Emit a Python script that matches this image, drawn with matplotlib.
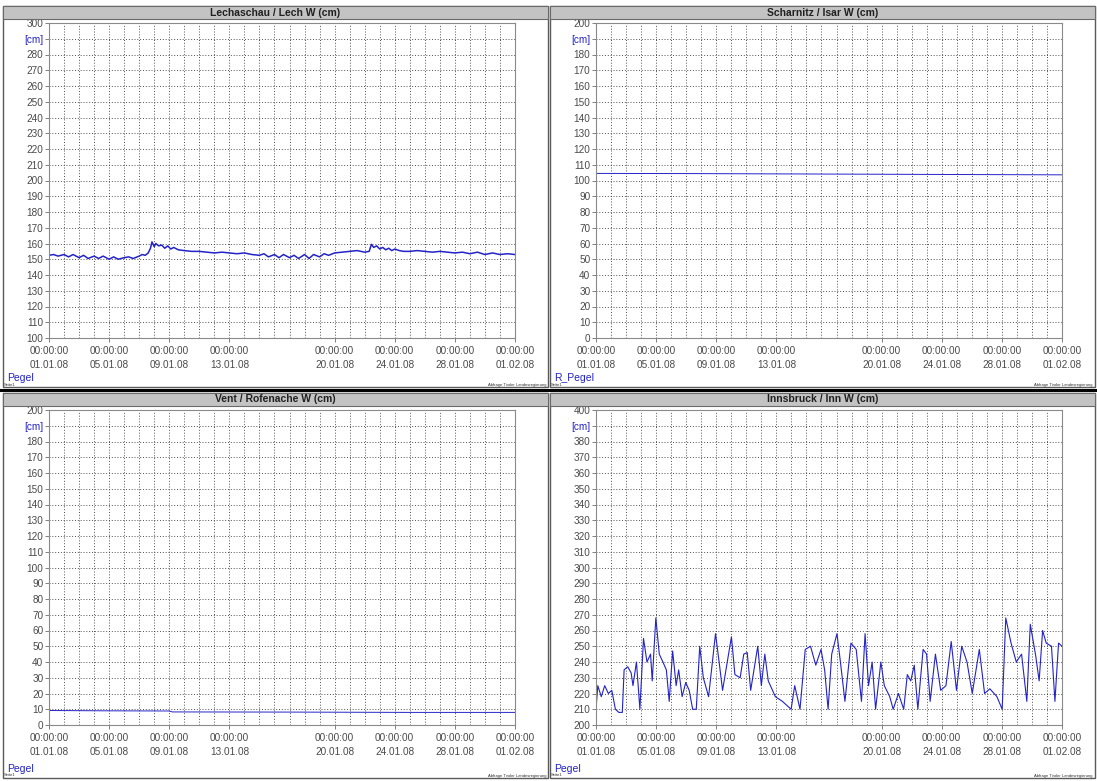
import numpy as np
import matplotlib
matplotlib.use("Agg")
import matplotlib.pyplot as plt
from matplotlib.patches import Rectangle

plt.rcParams["font.family"] = ["Liberation Sans", "DejaVu Sans"]

# ---- data (x in days since 01.01.08 00:00) ----
tick_days = [0, 4, 8, 12, 19, 23, 27, 31]
tick_dates = ["01.01.08", "05.01.08", "09.01.08", "13.01.08",
              "20.01.08", "24.01.08", "28.01.08", "01.02.08"]

lech_days = [0, 0.3, 0.6, 1.0, 1.3, 1.6, 2.0, 2.3, 2.6, 3.0, 3.3, 3.6, 4.0, 4.3,
             4.6, 5.0, 5.3, 5.6, 6.0, 6.2, 6.4, 6.6, 6.75, 6.85, 7.0, 7.1, 7.3,
             7.5, 7.7, 7.9, 8.1, 8.3, 8.6, 9.0, 9.5, 10.0, 10.5, 11.0, 11.5,
             12.0, 12.5, 13.0, 13.5, 14.0, 14.3, 14.6, 15.0, 15.3, 15.6, 16.0,
             16.3, 16.6, 17.0, 17.3, 17.6, 18.0, 18.3, 18.6, 19.0, 19.5, 20.0,
             20.5, 21.0, 21.3, 21.45, 21.6, 21.8, 22.0, 22.2, 22.4, 22.6, 22.8,
             23.0, 23.3, 23.6, 24.0, 24.5, 25.0, 25.5, 26.0, 26.5, 27.0, 27.5,
             28.0, 28.5, 29.0, 29.5, 30.0, 30.5, 31.0]
lech_cm = [152.5, 153, 152, 153, 151.5, 153, 151, 152.5, 150.5, 152, 150.5, 152,
           150, 151.5, 150, 151, 151.5, 150.5, 152, 153, 152.5, 154, 157, 161,
           158, 160, 158.5, 159, 157, 158.5, 156.5, 157.5, 156, 155.5, 155, 155,
           154.5, 154, 154.5, 154, 153.5, 154, 153, 152.5, 153.5, 151.5, 153,
           151, 153, 151, 152.5, 150.5, 153, 150.5, 153, 151.5, 153.5, 152.5,
           154, 154.5, 155, 155.5, 154.5, 155, 159.5, 157.5, 158.5, 156.5,
           157.5, 156, 157, 155.5, 156.5, 155.5, 155, 155, 155.5, 155, 154.5,
           155, 154.5, 154, 154.5, 153.5, 154.5, 153, 154, 153, 153.5, 153]

isar_days = [0, 6, 12, 18, 24, 31]
isar_cm = [104.5, 104.4, 104.2, 104.0, 103.8, 103.6]

vent_days = [0, 4, 8, 8.2, 16, 24, 31]
vent_cm = [9.2, 9.0, 8.9, 8.3, 8.2, 8.0, 8.0]

inn_days = [0.0, 0.12, 0.35, 0.58, 0.82, 1.05, 1.29, 1.52, 1.75, 1.87, 2.11, 2.34,
            2.46, 2.69, 2.92, 3.16, 3.39, 3.63, 3.74, 3.98, 4.21, 4.45, 4.68,
            4.87, 5.10, 5.33, 5.50, 5.73, 5.97, 6.20, 6.43, 6.67, 6.90, 7.14,
            7.49, 7.95, 8.19, 8.42, 9.01, 9.24, 9.59, 9.83, 10.06, 10.29, 10.76,
            11.00, 11.23, 11.46, 11.93, 12.40, 12.98, 13.22, 13.57, 13.92, 14.27,
            14.62, 14.97, 15.21, 15.44, 15.68, 16.03, 16.26, 16.56, 16.96, 17.31,
            17.66, 17.90, 18.13, 18.37, 18.60, 18.95, 19.18, 19.54, 19.77, 20.12,
            20.47, 20.71, 20.94, 21.17, 21.41, 21.76, 21.99, 22.23, 22.58, 22.93,
            23.28, 23.63, 23.98, 24.33, 24.68, 25.03, 25.50, 25.85, 26.20, 26.67,
            27.02, 27.26, 27.61, 27.96, 28.31, 28.66, 28.89, 29.25, 29.48, 29.71,
            29.95, 30.30, 30.53, 30.77, 31.0]
inn_cm = [210, 225, 218, 225, 220, 222, 210, 208, 208, 235, 237, 233, 225, 240,
          210, 255, 240, 245, 228, 268, 245, 240, 235, 215, 247, 225, 235, 218,
          227, 222, 210, 210, 250, 230, 218, 258, 240, 222, 256, 232, 230, 245,
          246, 222, 250, 225, 245, 228, 218, 215, 210, 225, 210, 248, 250, 238,
          248, 235, 210, 245, 258, 240, 215, 252, 248, 215, 258, 225, 240, 210,
          240, 225, 218, 210, 220, 210, 232, 228, 238, 210, 248, 245, 215, 245,
          222, 225, 253, 222, 250, 240, 220, 248, 220, 223, 218, 210, 268, 252,
          240, 245, 215, 264, 244, 228, 260, 252, 250, 215, 252, 250]

W, H = 1097, 781
fig = plt.figure(figsize=(W / 100, H / 100), dpi=100)
fig.patch.set_facecolor("white")

BLUE = "#2323c8"
GRAY_TXT = "#4a4a4a"


def frac(x0, y0, x1, y1):
    return [x0 / W, 1 - y1 / H, (x1 - x0) / W, (y1 - y0) / H]


def panel(px0, py0, px1, py1, title, label, ylo, yhi, days, vals, lw=0.9):
    # outer frame + title bar
    fig.add_artist(Rectangle((px0 / W, 1 - py1 / H), (px1 - px0) / W, (py1 - py0) / H,
                             transform=fig.transFigure, fill=False,
                             ec="#5a5a5a", lw=1.0))
    fig.add_artist(Rectangle((px0 / W, 1 - (py0 + 13) / H), (px1 - px0) / W, 13 / H,
                             transform=fig.transFigure, fc="#c3c3c3",
                             ec="#6a6a6a", lw=0.8))
    fig.text((px0 + px1) / 2 / W, 1 - (py0 + 6.5) / H, title, ha="center",
             va="center", fontsize=7.5, fontweight="bold", color="#202020")
    fig.text((px0 + 4) / W, 1 - (py1 - 9) / H, label, ha="left", va="center",
             fontsize=7.5, color=BLUE)
    fig.text((px0 + 1) / W, 1 - (py1 - 2.5) / H, "Seite1", ha="left", va="center",
             fontsize=3, color="#303030")
    fig.text((px1 - 2) / W, 1 - (py1 - 2.5) / H, "Abfrage Tiroler Landesregierung",
             ha="right", va="center", fontsize=3, color="#303030")

    ax = fig.add_axes(frac(px0 + 46, py0 + 17, px0 + 512, py0 + 332))
    ax.plot(days, vals, color=BLUE, lw=lw)
    ax.set_xlim(0, 31)
    ax.set_ylim(ylo, yhi)

    yt = np.arange(ylo, yhi + 1, 10)
    ax.set_yticks(yt)
    ylab = [str(v) for v in yt]
    ylab[-2] = "[cm]"
    ax.set_yticklabels(ylab)
    ax.set_xticks(tick_days)
    ax.set_xticklabels(["00:00:00\n" + d for d in tick_dates], linespacing=1.45)
    ax.set_xticks(np.arange(0, 32, 1), minor=True)

    ax.tick_params(axis="both", labelsize=7.2, colors="#6a6a6a",
                   labelcolor=GRAY_TXT, length=3, width=0.6)
    ax.tick_params(axis="x", which="minor", length=0)
    ax.tick_params(axis="y", pad=1)
    ax.tick_params(axis="x", pad=3)
    ax.get_yticklabels()[-2].set_color(BLUE)

    ax.grid(True, which="both", axis="x", color="#3a3a3a", lw=0.6,
            linestyle=(0, (1.2, 2.2)))
    ax.grid(True, which="major", axis="y", color="#3a3a3a", lw=0.6,
            linestyle=(0, (1.2, 2.2)))
    for s in ax.spines.values():
        s.set_color("#8a8a8a")
        s.set_linewidth(0.8)
    return ax


panel(3, 6, 548, 387, "Lechaschau / Lech W (cm)", "Pegel", 100, 300,
      lech_days, lech_cm, lw=1.1)
panel(550, 6, 1095, 387, "Scharnitz / Isar W (cm)", "R_Pegel", 0, 200,
      isar_days, isar_cm, lw=0.7)
panel(3, 393, 548, 778, "Vent / Rofenache W (cm)", "Pegel", 0, 200,
      vent_days, vent_cm, lw=0.7)
panel(550, 393, 1095, 778, "Innsbruck / Inn W (cm)", "Pegel", 200, 400,
      inn_days, inn_cm, lw=0.8)

# separator between upper and lower rows
fig.add_artist(plt.Line2D([0, 1], [1 - 390 / H, 1 - 390 / H],
                          transform=fig.transFigure, color="black", lw=2.2))

fig.savefig("out.png", dpi=100)
